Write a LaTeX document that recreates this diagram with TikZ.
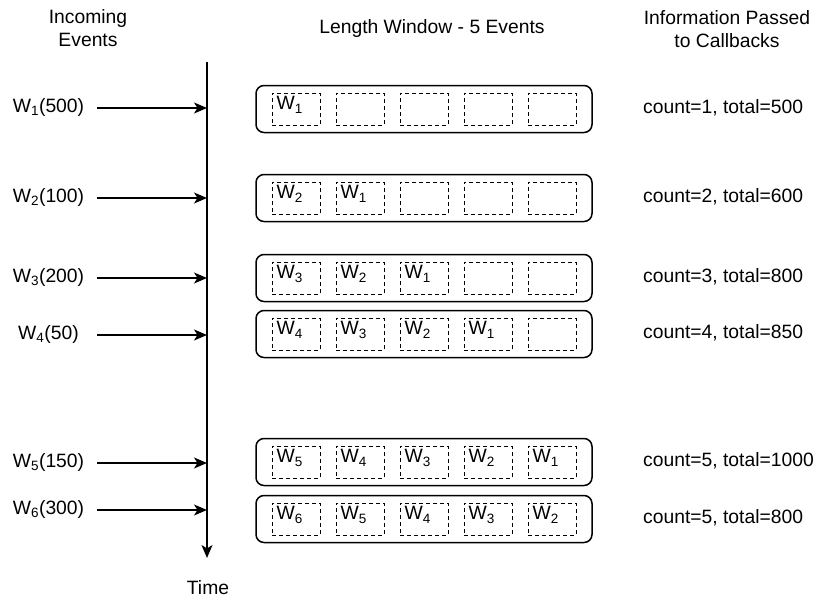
\documentclass[tikz,border=0pt]{standalone}
\usepackage{fontspec}
\setmainfont{Liberation Sans}
\usetikzlibrary{arrows.meta}

\tikzset{
  window/.style={draw, rounded corners=8pt, line width=1.5pt, minimum width=336pt, minimum height=47pt, inner sep=0pt},
  slot/.style={draw, dash pattern=on 4pt off 3pt, line width=1pt, minimum width=48pt, minimum height=32pt, inner sep=0pt},
  feed/.style={-{Stealth[length=13pt,width=11pt,inset=3.5pt]}, line width=1.2pt},
}

\begin{document}
\begin{tikzpicture}[x=1pt, y=-1pt, font=\fontsize{19.3}{23}\selectfont]
         \useasboundingbox (0,0) rectangle (817,600);
         % Headers
         \node [anchor=north, align=center, inner sep=0pt] (incoming) at (88,9) {Incoming\\Events};
         \node [anchor=base] (length) at (432,33) {Length Window - 5 Events};
         \node [anchor=north, align=center, inner sep=0pt] (passed) at (727,10) {Information Passed\\to Callbacks};
         % Time axis
         \coordinate (top) at (207,62);
         \coordinate (bot) at (207,558);
         \draw [feed, line width=1.5pt] (top) -- (bot);
         \node [anchor=base] (time) at (208,594) {Time};
         % Events and windows
         \foreach \r/\y/\a/\lab/\info/\list in {
             1/109/108/500/{count=1, total=500}/{1},
             2/198/198/100/{count=2, total=600}/{2,1},
             3/278/278/200/{count=3, total=800}/{3,2,1},
             4/334/335/50/{count=4, total=850}/{4,3,2,1},
             5/462/463/150/{count=5, total=1000}/{5,4,3,2,1},
             6/519/510/300/{count=5, total=800}/{6,5,4,3,2}} {
           \node [anchor=base, inner sep=0pt] (e\r) at (48.5,\a+4) {W\textsubscript{\r}(\lab)};
           \coordinate (src\r) at (97,\a);
           \coordinate (hit\r) at (207,\a);
           \draw [feed] (src\r) -- (hit\r);
           \node [window] (win\r) at (424,\y) {};
           \foreach \k in {1,...,5}
             \node [slot] (s\r-\k) at (424+64*\k-192,\y) {};
           \foreach \w [count=\k] in \list
             \node [anchor=north west, inner sep=0pt] at ([shift={(5,4)}]s\r-\k.north west) {W\textsubscript{\w}};
           \node [anchor=base west, inner sep=0pt] (c\r) at (643,\y+4) {\info};
         }
     \end{tikzpicture}
\end{document}
